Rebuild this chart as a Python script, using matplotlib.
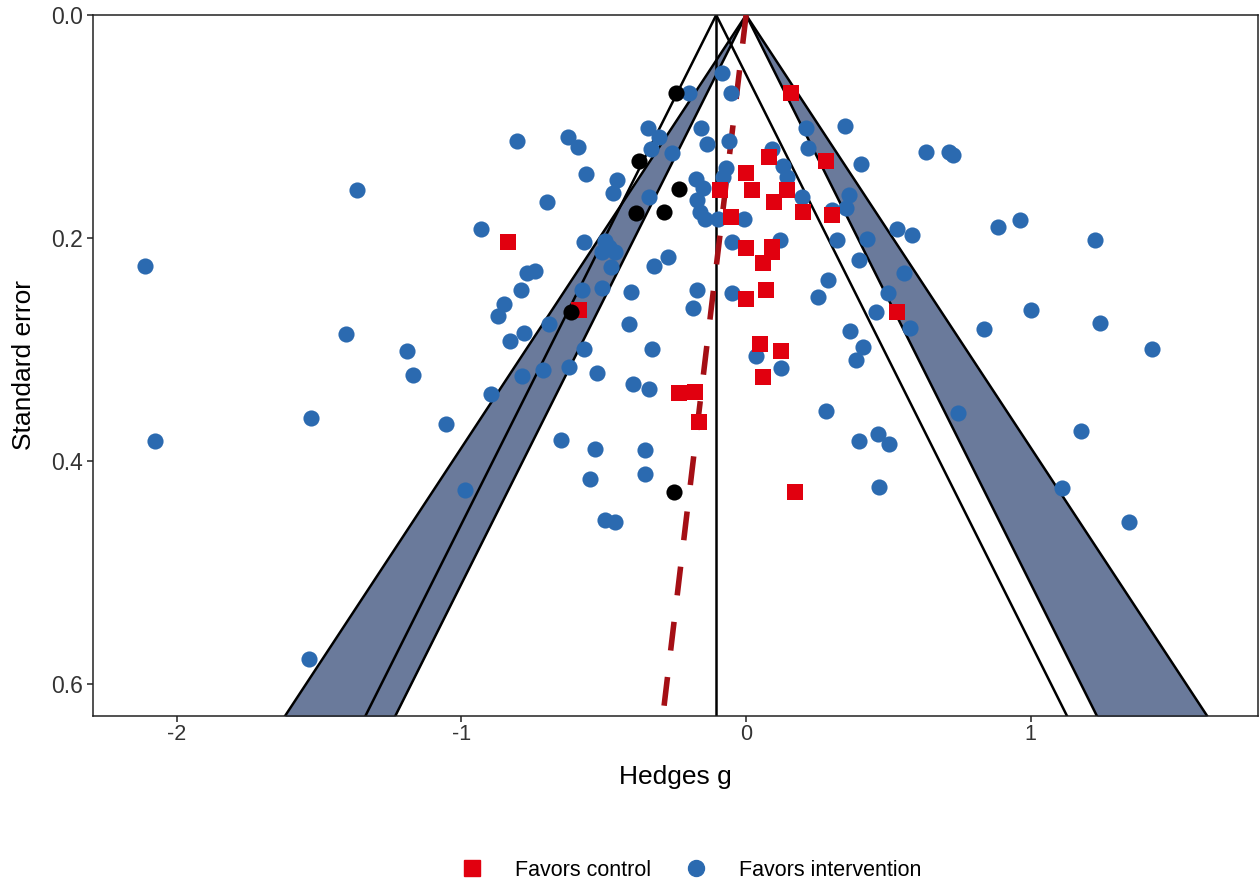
import numpy as np
import matplotlib
matplotlib.use("Agg")
import matplotlib.pyplot as plt
from matplotlib.lines import Line2D

plt.rcParams['font.family'] = ['Liberation Sans', 'DejaVu Sans']

# ---- data (Hedges g, standard error) ----
interv_g = [-1.365, -2.110, -1.407, -1.530, -2.075, -1.537, -0.803, -0.624, -0.589, -0.561,
            -0.698, -0.930, -0.571, -0.768, -0.740, -0.789, -0.852, -0.870, -0.691, -0.779,
            -0.828, -1.190, -1.169, -0.571, -0.712, -0.621, -0.786, -0.522, -0.895, -1.053,
            -0.649, -0.529, -0.550, -0.989, -0.494, -0.459, -0.494, -0.480, -0.505, -0.459,
            -0.473, -0.578, -0.505, -0.403, -0.171, -0.185, -0.413, -0.329, -0.396, -0.340,
            -0.354, -0.354, -0.199, -0.083, -0.052, -0.343, -0.305, -0.333, -0.259, -0.157,
            -0.139, -0.452, -0.466, -0.175, -0.150, -0.340, -0.171, -0.161, -0.143, -0.097,
            -0.273, -0.322, -0.059, -0.069, -0.080, -0.009, -0.048, 0.120, -0.048, 0.212,
            0.219, 0.092, 0.131, 0.145, 0.198, 0.300, 0.363, 0.352, 0.349, 0.405,
            0.321, 0.426, 0.398, 0.286, 0.254, 0.036, 0.124, 0.282, 0.633, 0.711,
            0.728, 0.531, 0.584, 0.556, 0.500, 0.886, 0.963, 0.458, 0.577, 0.366,
            0.412, 0.387, 0.834, 0.999, 0.746, 0.398, 0.465, 0.503, 0.468, 1.227,
            1.244, 1.427, 1.178, 1.111, 1.346]
interv_se = [0.157, 0.225, 0.286, 0.361, 0.382, 0.578, 0.113, 0.109, 0.118, 0.143,
             0.168, 0.192, 0.204, 0.231, 0.230, 0.247, 0.259, 0.270, 0.277, 0.285,
             0.292, 0.301, 0.323, 0.300, 0.318, 0.316, 0.324, 0.321, 0.340, 0.367,
             0.381, 0.389, 0.416, 0.426, 0.453, 0.455, 0.203, 0.208, 0.213, 0.213,
             0.226, 0.247, 0.245, 0.248, 0.247, 0.263, 0.277, 0.300, 0.331, 0.335,
             0.390, 0.412, 0.070, 0.052, 0.070, 0.101, 0.109, 0.120, 0.124, 0.101,
             0.116, 0.148, 0.160, 0.147, 0.155, 0.163, 0.166, 0.177, 0.183, 0.183,
             0.217, 0.225, 0.113, 0.137, 0.145, 0.183, 0.204, 0.202, 0.249, 0.101,
             0.119, 0.120, 0.135, 0.145, 0.163, 0.175, 0.161, 0.173, 0.100, 0.134,
             0.202, 0.201, 0.220, 0.238, 0.253, 0.306, 0.317, 0.355, 0.123, 0.123,
             0.126, 0.192, 0.197, 0.231, 0.249, 0.190, 0.184, 0.266, 0.281, 0.283,
             0.298, 0.309, 0.282, 0.265, 0.357, 0.382, 0.376, 0.385, 0.423, 0.202,
             0.276, 0.300, 0.373, 0.424, 0.455]

control_g = [0.159, 0.282, 0.082, -0.002, 0.019, 0.145, -0.090, 0.099, 0.201, 0.303,
             -0.052, -0.002, 0.092, 0.092, 0.061, 0.071, -0.002, -0.838, -0.586, 0.531,
             -0.234, -0.178, -0.164, 0.050, 0.124, 0.061, 0.170]
control_se = [0.070, 0.131, 0.127, 0.142, 0.157, 0.157, 0.157, 0.168, 0.177, 0.179,
              0.181, 0.209, 0.208, 0.213, 0.222, 0.247, 0.255, 0.204, 0.265, 0.266,
              0.339, 0.338, 0.365, 0.295, 0.301, 0.325, 0.428]

filled_g = [-0.245, -0.375, -0.234, -0.385, -0.290, -0.614, -0.255]
filled_se = [0.070, 0.131, 0.156, 0.178, 0.177, 0.266, 0.428]

pooled_adj = -0.105        # trim-and-fill adjusted estimate
egger_intercept = 0.0      # regression line at se = 0
egger_slope = -0.465       # change in g per unit se
z05, z01 = 1.96, 2.576

x_ticks = [-2, -1, 0, 1]
y_ticks = [0.0, 0.2, 0.4, 0.6]
x_lim = (-2.294, 1.798)
y_max = 0.6287

col_blue = "#2B6AB0"
col_red = "#E1000F"
col_fill = "#6A7A9B"
col_dash = "#A50F15"

# ---- figure ----
fig = plt.figure(figsize=(12.6, 8.81), dpi=100)
ax = fig.add_axes([93/1260, 1-716/881, (1258-93)/1260, (716-15)/881])

se = np.linspace(0, 0.7, 200)
# contour-enhanced shading (0.01 < p < 0.05)
ax.fill_betweenx(se, -z01*se, -z05*se, color=col_fill, lw=0, zorder=1)
ax.fill_betweenx(se, z05*se, z01*se, color=col_fill, lw=0, zorder=1)
for s in (-z01, -z05, z05, z01):
    ax.plot(s*se, se, color="black", lw=1.8, zorder=2)
# funnel around adjusted estimate
for s in (-z05, z05):
    ax.plot(pooled_adj + s*se, se, color="black", lw=1.8, zorder=2)
ax.axvline(pooled_adj, color="black", lw=1.8, zorder=2)

# Egger regression line
ax.plot(egger_intercept + egger_slope*se, se, color=col_dash, lw=4.0,
        dashes=(5.2, 4.8), dash_capstyle='butt', zorder=3)

ax.scatter(interv_g, interv_se, s=135, marker='o', color=col_blue, lw=0, zorder=4)
ax.scatter(control_g, control_se, s=125, marker='s', color=col_red, lw=0, zorder=4)
ax.scatter(filled_g, filled_se, s=135, marker='o', color="black", lw=0, zorder=4)

ax.set_xlim(*x_lim)
ax.set_ylim(y_max, 0)
ax.set_xticks(x_ticks)
ax.set_xticklabels([str(t) for t in x_ticks])
ax.set_yticks(y_ticks)
ax.set_yticklabels([f"{t:.1f}" for t in y_ticks])
ax.tick_params(labelsize=15.5, colors="#222222", length=4, width=1.1,
               labelcolor="#333333")
ax.tick_params(axis='x', pad=2)
ax.tick_params(axis='y', pad=3, labelsize=16.5)
for sp in ax.spines.values():
    sp.set_color("#222222")
    sp.set_linewidth(1.1)
ax.set_xlabel("Hedges g", fontsize=19, color="black", labelpad=14)
ax.set_ylabel("Standard error", fontsize=19, color="black", labelpad=11)

handles = [Line2D([], [], marker='s', ls='', color=col_red, markersize=11),
           Line2D([], [], marker='o', ls='', color=col_blue, markersize=11.5)]
fig.legend(handles, ["Favors control", "Favors intervention"], ncol=2,
           loc="center", bbox_to_anchor=(0.5443, 1-870/881), frameon=False,
           fontsize=15.5, handletextpad=1.0, columnspacing=1.05)

fig.savefig("out.png", dpi=100)
